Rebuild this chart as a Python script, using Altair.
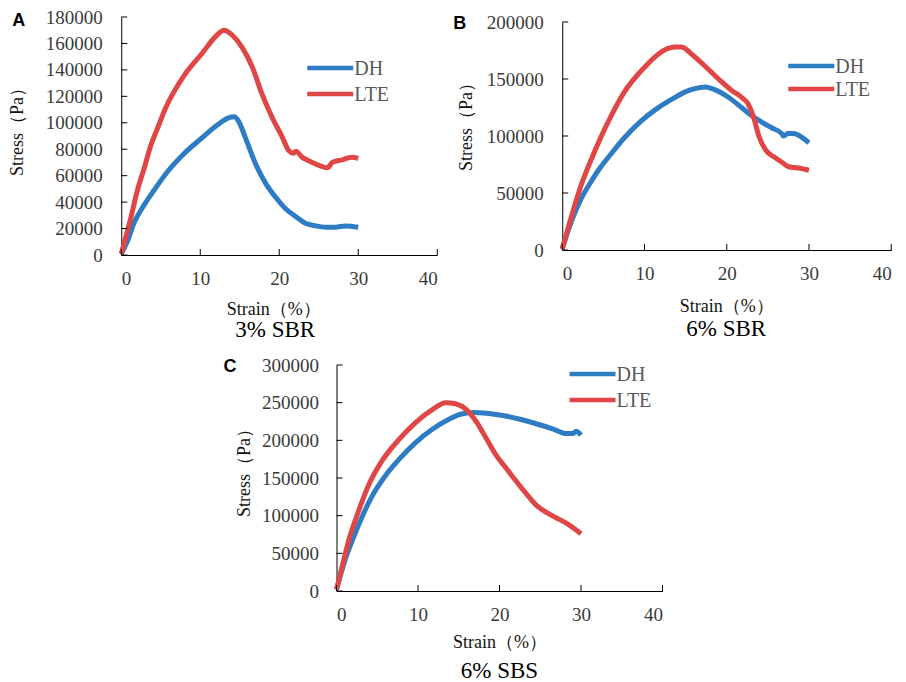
import altair as alt
import pandas as pd

SERIES = ["DH", "LTE"]
COLORS = ["#2E7CC4", "#E04646"]
X_TICKS = [0, 10, 20, 30, 40]

# Panel A (3% SBR)
A_DH_X = [0, 0.76, 1.6, 2.9, 4.15, 5.85, 8.0, 10.1, 12.2, 13.5, 14.3, 14.9, 15.7, 17.0, 18.3, 19.5, 20.8, 22.1, 23.3, 24.6, 25.9, 27.1, 28.4, 30.0]
A_DH_Y = [1000, 10000, 24000, 37900, 49000, 63000, 77000, 88000, 98500, 103500, 104500, 100700, 89000, 69000, 54000, 44000, 35000, 29000, 24000, 22000, 21000, 21000, 22000, 21000]
A_LTE_X = [0, 0.6, 1.2, 2.0, 2.9, 3.7, 4.6, 5.6, 8.1, 10.3, 11.9, 13.0, 14.1, 15.3, 16.6, 17.8, 19.1, 20.4, 21.2, 21.8, 22.1, 22.9, 24.2, 25.4, 26.1, 26.7, 28.0, 29.2, 30.0]
A_LTE_Y = [1000, 14000, 27800, 48000, 65600, 82000, 96000, 111000, 137000, 153000, 165000, 170000, 166000, 157000, 142000, 122000, 104000, 89000, 79000, 77000, 78500, 74000, 70000, 67000, 66000, 70000, 72000, 74000, 73000]
A_Y_TICKS = [0, 20000, 40000, 60000, 80000, 100000, 120000, 140000, 160000, 180000]

# Panel B (6% SBR)
B_DH_X = [0, 1.1, 2.3, 3.5, 4.7, 5.9, 7.5, 9.5, 11.5, 13.5, 14.9, 16.1, 17.4, 18.6, 20.2, 21.8, 23.0, 24.3, 25.5, 26.7, 26.9, 27.5, 28.3, 29.1, 30.0]
B_DH_Y = [1000, 24900, 45000, 60000, 73000, 84000, 98000, 112600, 124000, 133000, 138500, 141500, 143000, 140500, 134000, 125000, 118000, 112000, 107000, 102000, 100000, 102500, 102000, 99000, 94000]
B_LTE_X = [0, 1.1, 2.3, 3.5, 4.7, 5.9, 7.5, 10.1, 11.7, 13.7, 14.5, 15.7, 17.4, 19.0, 20.6, 21.8, 22.6, 23.2, 23.9, 24.7, 25.9, 26.7, 27.5, 28.7, 30.0]
B_LTE_Y = [1000, 29000, 57000, 79000, 99000, 117000, 138000, 161000, 172000, 178000, 178000, 172000, 161000, 150000, 140000, 134000, 128000, 118000, 100000, 88000, 81000, 77000, 73000, 72000, 70000]
B_Y_TICKS = [0, 50000, 100000, 150000, 200000]

# Panel C (6% SBS)
C_DH_X = [0, 1.1, 2.0, 3.2, 4.4, 6.0, 7.7, 9.7, 11.8, 13.8, 15.2, 16.8, 18.4, 20.4, 22.5, 24.5, 26.6, 28.2, 29.0, 29.4, 30.0]
C_DH_Y = [2000, 42800, 69000, 100000, 126600, 153000, 175000, 197000, 215000, 228000, 234600, 237000, 236000, 233000, 228000, 222000, 215000, 209000, 209000, 212000, 207000]
C_LTE_X = [0, 0.73, 1.55, 2.8, 4.0, 5.6, 7.7, 9.7, 11.8, 13.4, 14.6, 15.9, 17.2, 18.4, 19.6, 20.9, 22.1, 23.3, 24.5, 25.8, 27.0, 28.2, 29.4, 30.0]
C_LTE_Y = [2000, 34000, 69000, 109000, 142000, 173000, 201500, 223600, 241000, 250000, 248500, 241000, 224000, 202000, 180000, 162000, 145000, 129000, 114000, 104000, 97000, 90000, 81000, 76000]
C_Y_TICKS = [0, 50000, 100000, 150000, 200000, 250000, 300000]

SERIF = "Liberation Serif"
SANS = "Liberation Sans"
LABEL_STYLE = dict(labelFont=SERIF, labelFontSize=19, labelColor="#3a3a3a",
                   titleFont=SERIF, titleFontSize=18, titleFontWeight="normal", titleColor="#111111",
                   domainColor="black", domainWidth=1, ticks=False, tickSize=0, grid=False)


def panel(dh_x, dh_y, lte_x, lte_y, y_ticks, w, h, letter, caption, cfg):
    df = pd.concat([
        pd.DataFrame({"strain": dh_x, "stress": dh_y, "series": SERIES[0]}),
        pd.DataFrame({"strain": lte_x, "stress": lte_y, "series": SERIES[1]}),
    ], ignore_index=True)
    xs = alt.Scale(domain=[0, 40], nice=False, zero=False)
    ys = alt.Scale(domain=[0, y_ticks[-1]], nice=False)
    xaxis = alt.Axis(
        values=X_TICKS, title="Strain（%）", labelPadding=14,
        titleY=cfg["xty"], titleBaseline="middle", titleX=cfg["xtx"], **LABEL_STYLE)
    yaxis = alt.Axis(
        values=y_ticks, format="d", title="Stress（Pa）", labelPadding=cfg["ylp"],
        titleX=cfg["ytx"], titleY=cfg["yty"], titleBaseline="middle", titleAlign="center",
        **LABEL_STYLE)

    lines = alt.Chart(df).mark_line(strokeWidth=5, interpolate="monotone").encode(
        x=alt.X("strain:Q", scale=xs, axis=xaxis),
        y=alt.Y("stress:Q", scale=ys, axis=yaxis),
        color=alt.Color("series:N", scale=alt.Scale(domain=SERIES, range=COLORS), legend=None),
    )

    xt = alt.Chart(pd.DataFrame({"strain": X_TICKS})).mark_rule(color="black", strokeWidth=1).encode(
        x=alt.X("strain:Q", scale=xs, axis=xaxis), y=alt.value(h), y2=alt.value(h - 6))
    yt = alt.Chart(pd.DataFrame({"stress": y_ticks})).mark_rule(color="black", strokeWidth=1).encode(
        y=alt.Y("stress:Q", scale=ys, axis=yaxis), x=alt.value(0), x2=alt.value(6))

    layers = [lines, xt, yt]
    lx, ly, gap = cfg["leg"]
    for i, (name, col) in enumerate(zip(SERIES, COLORS)):
        ld = pd.DataFrame({"s": [name]})
        layers.append(alt.Chart(ld).mark_rule(strokeWidth=4.5, color=col).encode(
            x=alt.value(lx), x2=alt.value(lx + 46), y=alt.value(ly + i * gap)))
        layers.append(alt.Chart(ld).mark_text(
            font=SERIF, fontSize=20, color="#595959", align="left", baseline="middle").encode(
            x=alt.value(lx + 47), y=alt.value(ly + i * gap + 1), text="s:N"))

    layers.append(alt.Chart(pd.DataFrame({"l": [letter]})).mark_text(
        font=SANS, fontWeight="bold", fontSize=18, align="left", baseline="middle", color="black").encode(
        x=alt.value(cfg["let"][0]), y=alt.value(cfg["let"][1]), text="l:N"))
    layers.append(alt.Chart(pd.DataFrame({"c": [caption]})).mark_text(
        font=SERIF, fontSize=23, align="center", baseline="middle", color="black").encode(
        x=alt.value(cfg["cap"][0]), y=alt.value(cfg["cap"][1]), text="c:N"))
    if cfg.get("ext"):
        # invisible spacer that balances centring of the lower panel
        layers.append(alt.Chart(pd.DataFrame({"s": [caption]})).mark_rule(strokeOpacity=0).encode(
            x=alt.value(w), x2=alt.value(w + cfg["ext"]), y=alt.value(h)))

    return alt.layer(*layers).properties(width=w, height=h)


pa = panel(A_DH_X, A_DH_Y, A_LTE_X, A_LTE_Y, A_Y_TICKS, 316, 238, "A", "3% SBR", {
    "xty": 54, "xtx": 152, "ylp": 19, "ytx": -104, "yty": 110,
    "leg": (186, 51, 26), "let": (-109, 4), "cap": (154, 313)})
pb = panel(B_DH_X, B_DH_Y, B_LTE_X, B_LTE_Y, B_Y_TICKS, 329, 228, "B", "6% SBR", {
    "xty": 56, "xtx": 164, "ylp": 19, "ytx": -96, "yty": 100,
    "leg": (226, 44, 23), "let": (-109, 2), "cap": (164, 307)})
pc = panel(C_DH_X, C_DH_Y, C_LTE_X, C_LTE_Y, C_Y_TICKS, 326, 226, "C", "6% SBS", {
    "xty": 51, "xtx": 163, "ylp": 18, "ytx": -92, "yty": 103,
    "leg": (233, 9, 26), "let": (-113, 2), "cap": (163, 306), "ext": 14})

top = alt.hconcat(pa, pb, spacing=125, bounds="flush", center=True)
chart = alt.vconcat(top, pc, spacing=14, center=True).properties(
    padding=0
).configure_view(stroke=None).configure_axis(**LABEL_STYLE)

chart.save("out.html", embed_options={"renderer": "svg", "actions": False})
